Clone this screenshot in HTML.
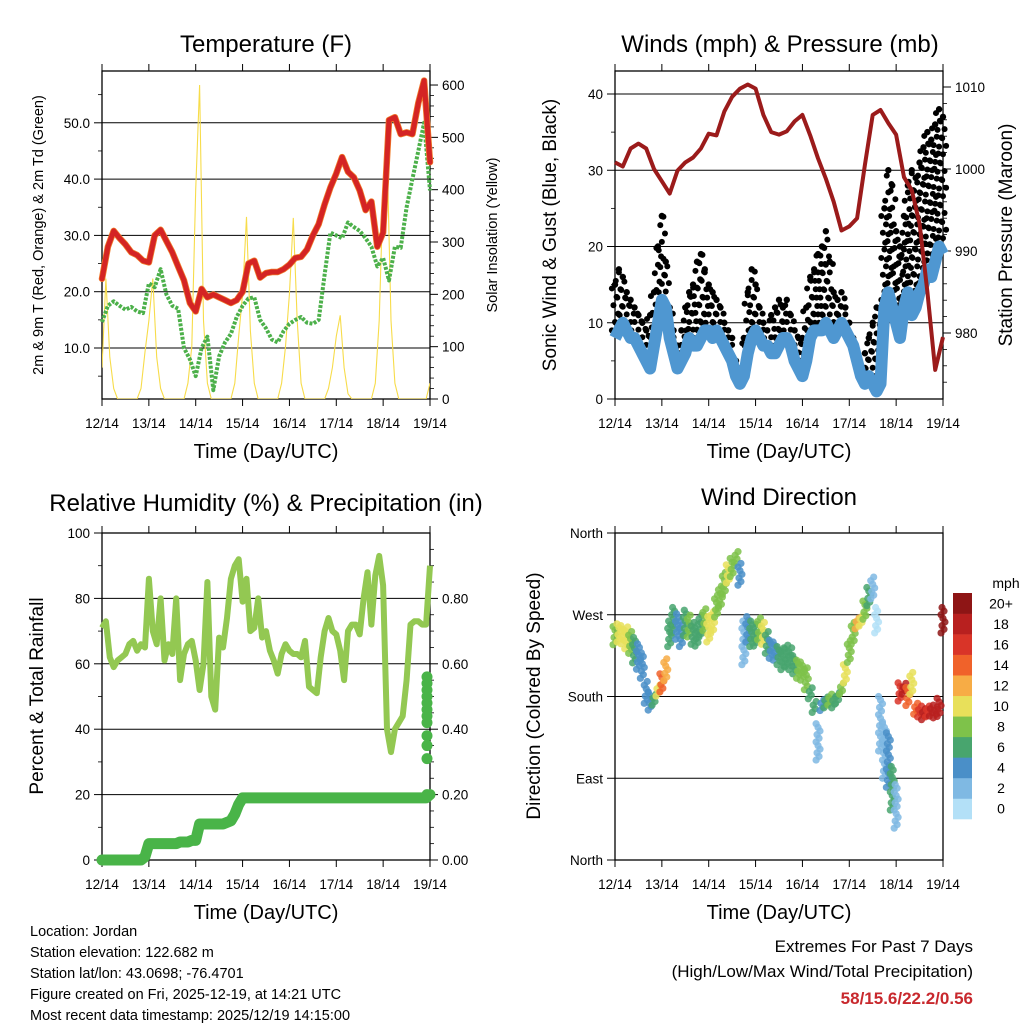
<!DOCTYPE html>
<html><head><meta charset="utf-8"><style>
html,body{margin:0;padding:0;background:#fff;}
svg{display:block;font-family:"Liberation Sans",Arial,sans-serif;}
</style></head><body>
<svg id="chart" width="1024" height="1024" viewBox="0 0 1024 1024" xmlns="http://www.w3.org/2000/svg">
<rect x="0" y="0" width="1024" height="1024" fill="#fff"/>
<g id="layer"></g>
<g font-size="14.5" fill="#000">
<text x="30" y="936">Location: Jordan</text>
<text x="30" y="957">Station elevation: 122.682 m</text>
<text x="30" y="978">Station lat/lon: 43.0698; -76.4701</text>
<text x="30" y="999">Figure created on Fri, 2025-12-19, at 14:21 UTC</text>
<text x="30" y="1020">Most recent data timestamp: 2025/12/19 14:15:00</text>
</g>
<g text-anchor="end">
<text x="973" y="952" font-size="17">Extremes For Past 7 Days</text>
<text x="973" y="977" font-size="17">(High/Low/Max Wind/Total Precipitation)</text>
<text x="973" y="1004" font-size="17" font-weight="bold" fill="#c8282d">58/15.6/22.2/0.56</text>
</g>
</svg>
<script>
// ---------- data ----------
const dayLabels = ["12/14","13/14","14/14","15/14","16/14","17/14","18/14","19/14"];
const tempF = [22.3,28,30.8,29.5,28.4,27,26.5,25.5,25.2,30,31,29,27,24.5,22,18,16.5,20.5,19,19.5,19,18.5,18,18.5,20,25,25.5,22.5,23.3,23.5,23.5,24,24.8,26,26.2,27.5,30,32,35.5,38.5,41,43.9,41.3,40.3,38,34.5,36,28,30.5,50.5,51,48,48.3,48,53.5,57.5,43];
const dewF = [14.6,17.5,18.3,17.5,16.8,17.3,16.5,16.2,21.5,20.8,24,19.5,17.5,17,10,8,5,10,12,2.5,8.5,11,12.5,15.5,17.5,18.8,19,15,13.5,11.5,11,13,14.3,15,15.5,14.5,14.3,15,23,30.5,30,29.5,32.3,31.5,30.8,29.5,28,24.5,26,22,28,27.8,35,40,45,50,38];
const solar = [60,230,80,20, 0,0,0,0,0,0, 20,90,150,230,80,20, 0,0,0,0,0,0, 30,100,400,600,150,30, 0,0,0,0,0,0, 30,120,200,348,130,30, 0,0,0,0,0,0, 30,100,200,346,150,30, 0,0,0,0,0,0, 20,60,120,160,60,10, 0,0,0,0,0,0, 30,150,400,480,150,30, 0,0,0,0,0,0,0,0, 30];
const windMph = [8,9,10,9,8,8,7,6,5, 4,7,10,13, 12,8,6,4, 5,6,8,7, 7,8,9,9, 8,9,8,7, 6,5,3,2, 3,6,8,9, 8,7,7,6, 6,7,8,8, 7,5,4,3, 5,8,9,9, 9,10,9,8, 9,10,9,8, 7,5,3,2, 3,2,1,2, 12,14,12,10, 8,12,14,11, 12,14,15,17, 16,18,20,19];
const gustMph = [15,17,16,14,13,12,11,10,9, 11,14,20,24, 18,12,9,7, 9,12,14,15, 18,19,17,15, 14,13,12,10, 9,8,5,4, 8,14,17,15, 12,10,9,11, 12,13,12,13, 11,9,8,8, 12,16,17,19, 20,22,18,14, 13,14,12,10, 8,5,4,6, 8,10,12,6, 25,30,28,22, 20,24,28,30, 29,31,33,35, 34,36,38,37];
const pressureMb = [1000.8,1000.3,1002.5,1003.1,1002.5,1000,998.5,997,999.8,1000.8,1001.4,1002.5,1004.3,1004.1,1007,1008.8,1009.8,1010.3,1009.8,1006.6,1004.5,1004.2,1004.6,1005.8,1006.6,1004.1,1001.3,998.8,996,992.5,993,994,1000.5,1006.6,1007.2,1005.6,1004.2,999,997.4,993.3,985,975.5,979.5];
const rhPct = [71,73,62,59,61,62,63,66,67,64,66,65,86,70,66,80,61,66,63,80,55,63,66,67,61,52,60,85,50,46,68,65,74,86,90,92,79,86,70,71,80,68,70,64,61,57,63,66,64,63,63,62,67,53,52,51,62,70,74,70,69,64,55,70,72,72,69,80,88,72,87,93,84,40,33,40,42,44,55,72,73,73,72,72,90];
const precipIn = [0,0,0,0,0,0,0,0,0,0,0, 0.01, 0.05,0.05,0.05,0.05,0.05,0.05,0.05,0.05,0.055,0.055,0.055,0.06,0.06, 0.11,0.11,0.11,0.11,0.11,0.11,0.11,0.115,0.12, 0.14,0.17, 0.19,0.19,0.19,0.19,0.19,0.19,0.19,0.19,0.19,0.19,0.19,0.19,0.19,0.19,0.19,0.19,0.19,0.19,0.19,0.19,0.19,0.19,0.19,0.19,0.19,0.19,0.19,0.19,0.19,0.19,0.19,0.19,0.19,0.19,0.19,0.19,0.19,0.19,0.19,0.19,0.19,0.19,0.19,0.19,0.19,0.19,0.19,0.19, 0.2];
const precipEnd = [0.2,0.31,0.35,0.38,0.42,0.44,0.46,0.48,0.5,0.52,0.54,0.56];
const dirDeg = [247,250,248,245,240,232,225,215,185,175,178,188,195,210,250,265,258,250,262,258,250,248,258,265,255,262,280,290,305,315,322,335,315,240,255,250,248,255,250,240,232,230,225,222,225,222,215,210,208,200,185,170,130,172,175,178,175,180,190,205,230,250,262,265,275,290,300,265,150,120,110,80,60,185,190,180,195,168,165,162,165,166,164,168,265];
const dirSpeed = [9,10,11,10,8,6,4,4,5,5,6,11,14,12,7,7,5,4,6,8,7,7,6,9,10,10,8,8,9,10,9,8,4,2,4,6,6,8,10,7,5,5,6,6,7,6,7,8,9,8,7,6,3,5,6,8,7,7,8,10,9,8,12,11,8,6,3,1,2,3,4,6,3,16,18,14,10,15,17,18,17,18,19,18,20];
const dirSpread = [20,20,20,25,25,30,30,30,25,20,15,15,20,25,30,30,30,30,30,25,25,25,25,25,30,25,25,25,25,20,20,15,25,50,30,30,25,25,25,25,20,20,20,25,25,25,20,20,20,25,15,15,40,15,15,15,15,15,15,20,25,25,15,15,20,20,25,30,60,60,60,50,50,20,15,20,25,15,15,15,15,15,15,20,30];
const speedBins = ["0","2","4","6","8","10","12","14","16","18","20+"];
const speedColors = ["#b3e0f7","#7fb9e3","#4a8fc8","#48a56e","#7ec24a","#e8e05a","#f7ac45","#f0622a","#d93428","#b8201f","#8e1515"];

// ---------- helpers ----------
const NS = "http://www.w3.org/2000/svg";
const layer = document.getElementById('layer');
function mk(tag, attrs, parent){
  const e = document.createElementNS(NS, tag);
  for (const k in attrs) e.setAttribute(k, attrs[k]);
  (parent || layer).appendChild(e);
  return e;
}
function txt(s, attrs, parent){ const e = mk('text', attrs, parent); e.textContent = s; return e; }
function xScale(P){ return t => P.L + t * (P.R - P.L) / 168; }

const P1 = {L:102,R:430,T:71,B:399};
const P2 = {L:615,R:943,T:71,B:399};
const P3 = {L:102,R:430,T:533,B:860};
const P4 = {L:615,R:943,T:533,B:860};

function frame(P, name){
  const g = mk('g', {});
  
  
  const r = mk('rect', {x:P.L, y:P.T, width:P.R-P.L, height:P.B-P.T, fill:'none', stroke:'#000', 'stroke-width':1.3}, g);
  
  
  const xs = xScale(P);
  for (let d = 0; d < 8; d++) {
    const x = xs(d*24);
    const tb = mk('line', {x1:x, x2:x, y1:P.B, y2:P.B+7, stroke:'#000', 'stroke-width':1}, g);
    
    
    const tt = mk('line', {x1:x, x2:x, y1:P.T, y2:P.T-7, stroke:'#000', 'stroke-width':1}, g);
    
    
    const lb = txt(dayLabels[d], {x:x, y:P.B+29, 'text-anchor':'middle', 'font-size':13.5}, g);
    
    
  }
  const xt = txt('Time (Day/UTC)', {x:(P.L+P.R)/2, y:P.B+59, 'text-anchor':'middle', 'font-size':20}, g);
  
  
  return g;
}
function yAxis(P, g, side, vals, yf, labels, minorVals, grid){
  const x0 = side === 'L' ? P.L : P.R;
  const dir = side === 'L' ? -1 : 1;
  vals.forEach((v, i) => {
    const y = yf(v);
    const t = mk('line', {x1:x0, x2:x0+dir*8, y1:y, y2:y, stroke:'#000', 'stroke-width':1}, g);
    
    
    if (grid) {
      const gl = mk('line', {x1:P.L, x2:P.R, y1:y, y2:y, stroke:'#000', 'stroke-width':1}, g);
      
      
    }
    const l = txt(labels[i], {x:x0+dir*12, y:y+5, 'text-anchor': side==='L'?'end':'start', 'font-size':13.5}, g);
    
    
  });
  (minorVals||[]).forEach(v => {
    const y = yf(v);
    const t = mk('line', {x1:x0, x2:x0+dir*4, y1:y, y2:y, stroke:'#000', 'stroke-width':0.8}, g);
    
    
  });
}
function title(s, x, y, name){
  const e = txt(s, {x:x, y:y, 'text-anchor':'middle', 'font-size':24});
  
  
}
function vlabel(s, x, y, size, name){
  const e = txt(s, {x:x, y:y, 'text-anchor':'middle', 'font-size':size, transform:`rotate(-90 ${x} ${y})`});
  
  
}
function pathFrom(arr, xf, yf, stepT){
  return arr.map((v,i) => (i?'L':'M') + xf(i*stepT).toFixed(1) + ' ' + yf(v).toFixed(1)).join(' ');
}

// ---------- Panel 1: Temperature ----------
{
  const g = frame(P1, 'temperature-panel');
  const xs = xScale(P1);
  const yT = v => 348 - (v - 10) * 5.63;
  const yS = v => 399 - v * 0.5233;
  yAxis(P1, g, 'L', [10,20,30,40,50], yT, ['10.0','20.0','30.0','40.0','50.0'], [5,15,25,35,45,55], true);
  yAxis(P1, g, 'R', [0,100,200,300,400,500,600], yS, ['0','100','200','300','400','500','600'], [20,40,60,80,120,140,160,180,220,240,260,280,320,340,360,380,420,440,460,480,520,540,560,580], false);
  const clip = mk('clipPath', {id:'c1'}); mk('rect', {x:P1.L, y:P1.T, width:P1.R-P1.L, height:P1.B-P1.T}, clip);
  const sl = mk('path', {d:pathFrom(solar, xs, yS, 2), fill:'none', stroke:'#f7dc4a', 'stroke-width':1.1, 'clip-path':'url(#c1)'}, g);
  
  
  const dl = mk('path', {d:pathFrom(dewF, xs, yT, 3), fill:'none', stroke:'#4cb04a', 'stroke-width':4, 'stroke-dasharray':'3 1.5', 'stroke-linejoin':'round'}, g);
  
  
  const ol = mk('path', {d:pathFrom(tempF, xs, yT, 3), fill:'none', stroke:'#f07b2a', 'stroke-width':6.5, 'stroke-linejoin':'round', 'stroke-linecap':'round'}, g);
  
  
  const rl = mk('path', {d:pathFrom(tempF, xs, yT, 3), fill:'none', stroke:'#d42424', 'stroke-width':5, 'stroke-linejoin':'round', 'stroke-linecap':'round'}, g);
  
  
  title('Temperature (F)', 266, 52, 'temperature-title');
  vlabel('2m & 9m T (Red, Orange) & 2m Td (Green)', 43, 235, 14.5, 'temperature-y-axis-title');
  vlabel('Solar Insolation (Yellow)', 497, 235, 14.5, 'solar-y-axis-title');
}

// ---------- Panel 2: Winds & Pressure ----------
{
  const g = frame(P2, 'winds-panel');
  const xs = xScale(P2);
  const yW = v => 399 - v * 7.625;
  const yP = p => 169 - (p - 1000) * 8.2;
  yAxis(P2, g, 'L', [0,10,20,30,40], yW, ['0','10','20','30','40'], [5,15,25,35], true);
  yAxis(P2, g, 'R', [980,990,1000,1010], yP, ['980','990','1000','1010'], [974,976,978,982,984,986,988,992,994,996,998,1002,1004,1006,1008], false);
  const dots = mk('g', {fill:'#000'}, g);
  
  
  gustMph.forEach((gv, i) => {
    const lo = windMph[i] + 1;
    let n = 0;
    for (let v = lo; v <= gv; v += 1.1) {
      const off = ((n * 7) % 5 - 2) * 0.8;
      n++;
      const c = mk('circle', {cx:xs(i*2 + off), cy:yW(v), r:3}, dots);
      
      
    }
    const c2 = mk('circle', {cx:xs(i*2), cy:yW(gv), r:3.2}, dots);
    
    
  });
  const wl = mk('path', {d:pathFrom(windMph, xs, yW, 2), fill:'none', stroke:'#4f97d1', 'stroke-width':12, 'stroke-linejoin':'round'}, g);
  
  
  const pl = mk('path', {d:pathFrom(pressureMb, xs, yP, 4), fill:'none', stroke:'#9b1b1b', 'stroke-width':4, 'stroke-linejoin':'round'}, g);
  
  
  title('Winds (mph) & Pressure (mb)', 780, 52, 'winds-title');
  vlabel('Sonic Wind & Gust (Blue, Black)', 556, 235, 19, 'wind-y-axis-title');
  vlabel('Station Pressure (Maroon)', 1012, 235, 19, 'pressure-y-axis-title');
}

// ---------- Panel 3: RH & Precip ----------
{
  const g = frame(P3, 'humidity-panel');
  const xs = xScale(P3);
  const yR = v => 860 - v * 3.27;
  const yPr = v => 860 - v * 327;
  yAxis(P3, g, 'L', [0,20,40,60,80,100], yR, ['0','20','40','60','80','100'], [10,30,50,70,90], true);
  yAxis(P3, g, 'R', [0,0.2,0.4,0.6,0.8], yPr, ['0.00','0.20','0.40','0.60','0.80'], [0.05,0.1,0.15,0.25,0.3,0.35,0.45,0.5,0.55,0.65,0.7,0.75,0.85,0.9,0.95], false);
  const rl = mk('path', {d:pathFrom(rhPct, xs, yR, 2), fill:'none', stroke:'#93c852', 'stroke-width':6, 'stroke-linejoin':'round'}, g);
  
  
  const pl = mk('path', {d:pathFrom(precipIn, xs, yPr, 2), fill:'none', stroke:'#49b448', 'stroke-width':11, 'stroke-linejoin':'round', 'stroke-linecap':'round'}, g);
  
  
  precipEnd.forEach(v => {
    const c = mk('circle', {cx:xs(168)-3, cy:yPr(v), r:5.5, fill:'#49b448'}, g);
    
    
  });
  title('Relative Humidity (%) & Precipitation (in)', 266, 511, 'humidity-title');
  vlabel('Percent & Total Rainfall', 43, 696, 19, 'humidity-y-axis-title');
}

// ---------- Panel 4: Wind Direction ----------
{
  const g = frame(P4, 'wind-direction-panel');
  const xs = xScale(P4);
  const yD = d => 860 - d * 327 / 360;
  yAxis(P4, g, 'L', [0,90,180,270,360], yD, ['North','East','South','West','North'], [], true);
  const dots = mk('g', {'fill-opacity':0.85}, g);
  
  
  dirDeg.forEach((d, i) => {
    const bin = Math.max(0, Math.min(10, Math.floor(dirSpeed[i] / 2)));
    const s = dirSpread[i];
    let n = 0;
    for (let k = -s/2; k <= s/2; k += 4) {
      const off = ((n * 3) % 5 - 2) * 0.5;
      n++;
      const c = mk('circle', {cx:xs(i*2 + off), cy:yD(d + k), r:3.6, fill:speedColors[bin]}, dots);
      
      
    }
  });
  const cb = mk('g', {}, g);
  
  
  const h = 226 / 11;
  speedColors.forEach((col, i) => {
    const y = 819 - (i+1)*h;
    const r = mk('rect', {x:953, y:y, width:19, height:h+0.3, fill:col}, cb);
    
    
    const l = txt(speedBins[i], {x:1001, y:y+h/2+5, 'text-anchor':'middle', 'font-size':14}, cb);
    
    
  });
  const u = txt('mph', {x:1006, y:588, 'text-anchor':'middle', 'font-size':14}, cb);
  
  
  title('Wind Direction', 779, 505, 'wind-direction-title');
  vlabel('Direction (Colored By Speed)', 540, 696, 19, 'direction-y-axis-title');
}
</script>
</body></html>
